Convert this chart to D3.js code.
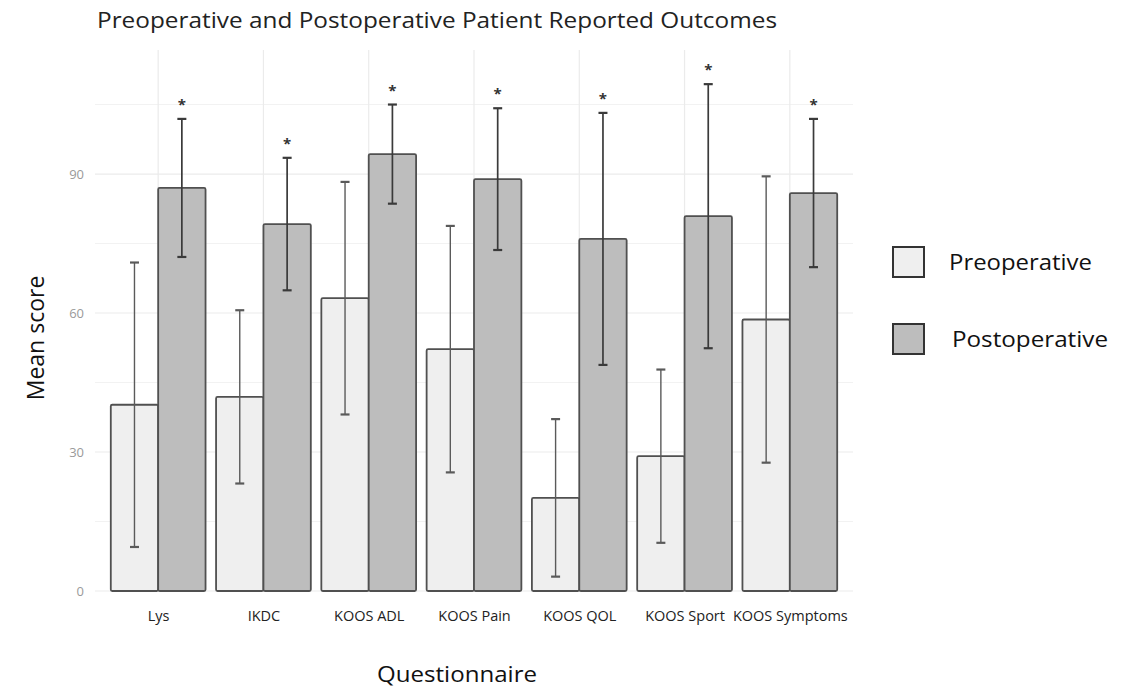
<!DOCTYPE html>
<html>
<head>
<meta charset="utf-8">
<script src="https://cdn.jsdelivr.net/npm/d3@7"></script>
<style>
  body { margin: 0; background: #fff; }
  text { font-family: "Open Sans", "Noto Sans", sans-serif; }
</style>
</head>
<body>
<div id="chart"></div>
<script>
// Chart data
var questionnaires = ["Lys", "IKDC", "KOOS ADL", "KOOS Pain", "KOOS QOL", "KOOS Sport", "KOOS Symptoms"];
var groups = ["Preoperative", "Postoperative"];
var preMean = [40.2, 41.9, 63.2, 52.2, 20.1, 29.1, 58.6];
var preSd = [30.7, 18.7, 25.1, 26.6, 17.0, 18.7, 30.9];
var postMean = [87.0, 79.2, 94.3, 88.9, 76.0, 80.9, 85.9];
var postSd = [14.9, 14.3, 10.7, 15.3, 27.2, 28.5, 16.0];
var yTicks = [0, 30, 60, 90];
var gridMinor = [15, 45, 75, 105];

var svgWidth = 1135;
var svgHeight = 689;

// panel box
var margin = { top: 50, right: 282, bottom: 98, left: 95 };
var width = svgWidth - margin.left - margin.right;
var height = svgHeight - margin.top - margin.bottom;

var fills = { Preoperative: "#efefef", Postoperative: "#bdbdbd" };

var svg = d3.select("#chart")
  .append("svg")
  .attr("width", svgWidth)
  .attr("height", svgHeight);

var chartGroup = svg.append("g")
  .attr("transform", `translate(${margin.left}, ${margin.top})`);

// scales
var yScale = d3.scaleLinear()
  .domain([0, 541 / 4.633])
  .range([height, 0]);

// discrete axis with ggplot-like 0.6 expansion at each end
var step = width / (questionnaires.length - 1 + 1.2);
var xScale = d3.scalePoint()
  .domain(questionnaires)
  .range([0.6 * step, width - 0.6 * step]);

var barW = step * 0.45;

// gridlines
chartGroup.append("g")
  .selectAll("line.minor")
  .data(gridMinor)
  .enter()
  .append("line")
  .attr("x1", 0)
  .attr("x2", width)
  .attr("y1", d => yScale(d))
  .attr("y2", d => yScale(d))
  .attr("stroke", "#f2f2f2")
  .attr("stroke-width", 1);

chartGroup.append("g")
  .selectAll("line.major")
  .data(yTicks)
  .enter()
  .append("line")
  .attr("x1", 0)
  .attr("x2", width)
  .attr("y1", d => yScale(d))
  .attr("y2", d => yScale(d))
  .attr("stroke", "#ebebeb")
  .attr("stroke-width", 1.2);

chartGroup.append("g")
  .selectAll("line.vgrid")
  .data(questionnaires)
  .enter()
  .append("line")
  .attr("x1", d => xScale(d))
  .attr("x2", d => xScale(d))
  .attr("y1", 0)
  .attr("y2", height)
  .attr("stroke", "#ebebeb")
  .attr("stroke-width", 1.2);

// build rows for the bars
var rows = [];
questionnaires.forEach(function(q, i) {
  rows.push({ q: q, group: "Preoperative", mean: preMean[i], sd: preSd[i], offset: -1 });
  rows.push({ q: q, group: "Postoperative", mean: postMean[i], sd: postSd[i], offset: 0 });
});

// bars
chartGroup.selectAll("rect.bar")
  .data(rows)
  .enter()
  .append("rect")
  .attr("x", d => xScale(d.q) + d.offset * barW)
  .attr("y", d => yScale(d.mean))
  .attr("width", barW)
  .attr("height", d => yScale(0) - yScale(d.mean))
  .attr("fill", d => fills[d.group])
  .attr("stroke", "#505050")
  .attr("stroke-width", 1.8)
  .attr("rx", 1.5);

// error bars
var capW = 4.5;
var errGroup = chartGroup.selectAll("g.err")
  .data(rows)
  .enter()
  .append("g")
  .attr("stroke", d => d.group === "Preoperative" ? "#5a5a5a" : "#3a3a3a")
  .attr("stroke-width", d => d.group === "Preoperative" ? 1.4 : 1.7);

errGroup.append("line")
  .attr("x1", d => xScale(d.q) + (d.offset + 0.5) * barW)
  .attr("x2", d => xScale(d.q) + (d.offset + 0.5) * barW)
  .attr("y1", d => yScale(d.mean - d.sd))
  .attr("y2", d => yScale(d.mean + d.sd));

errGroup.append("line")
  .attr("x1", d => xScale(d.q) + (d.offset + 0.5) * barW - capW)
  .attr("x2", d => xScale(d.q) + (d.offset + 0.5) * barW + capW)
  .attr("y1", d => yScale(d.mean + d.sd))
  .attr("y2", d => yScale(d.mean + d.sd))
  .attr("stroke-width", 2.2);

errGroup.append("line")
  .attr("x1", d => xScale(d.q) + (d.offset + 0.5) * barW - capW)
  .attr("x2", d => xScale(d.q) + (d.offset + 0.5) * barW + capW)
  .attr("y1", d => yScale(d.mean - d.sd))
  .attr("y2", d => yScale(d.mean - d.sd))
  .attr("stroke-width", 2.2);

// significance stars above postoperative bars
chartGroup.selectAll("text.star")
  .data(rows.filter(d => d.group === "Postoperative"))
  .enter()
  .append("text")
  .attr("x", d => xScale(d.q) + 0.5 * barW)
  .attr("y", d => yScale(d.mean + d.sd) - 9)
  .attr("text-anchor", "middle")
  .attr("font-size", 15)
  .attr("font-weight", "bold")
  .attr("fill", "#333")
  .text("*");

// axes
var leftAxis = d3.axisLeft(yScale).tickValues(yTicks).tickSize(0).tickPadding(11);
var bottomAxis = d3.axisBottom(xScale).tickSize(0).tickPadding(20);

var yAxisG = chartGroup.append("g").call(leftAxis);
yAxisG.select(".domain").remove();
yAxisG.selectAll("text")
  .attr("font-size", 13)
  .attr("fill", "#9a9a9a")
  .attr("font-family", "'Open Sans', sans-serif");

var xAxisG = chartGroup.append("g")
  .attr("transform", `translate(0, ${height})`)
  .call(bottomAxis);
xAxisG.select(".domain").remove();
xAxisG.selectAll("text")
  .attr("font-size", 14.5)
  .attr("fill", "#222")
  .attr("font-family", "'Open Sans', sans-serif");

// title
svg.append("text")
  .attr("x", 97)
  .attr("y", 28)
  .attr("font-size", 22)
  .attr("fill", "#222")
  .attr("textLength", 680)
  .attr("lengthAdjust", "spacingAndGlyphs")
  .text("Preoperative and Postoperative Patient Reported Outcomes");

// y label
svg.append("text")
  .attr("transform", "rotate(-90)")
  .attr("x", -338)
  .attr("y", 44)
  .attr("text-anchor", "middle")
  .attr("font-size", 23)
  .attr("fill", "#111")
  .text("Mean score");

// x label
svg.append("text")
  .attr("x", 457)
  .attr("y", 682)
  .attr("text-anchor", "middle")
  .attr("font-size", 22)
  .attr("fill", "#111")
  .attr("textLength", 160)
  .attr("lengthAdjust", "spacingAndGlyphs")
  .text("Questionnaire");

// legend
var legend = svg.append("g")
  .attr("transform", "translate(893, 247)");

var legendItem = legend.selectAll("g")
  .data(groups)
  .enter()
  .append("g")
  .attr("transform", (d, i) => `translate(0, ${i * 77})`);

legendItem.append("rect")
  .attr("width", 31)
  .attr("height", 30)
  .attr("fill", d => fills[d])
  .attr("stroke", "#333")
  .attr("stroke-width", 2);

legendItem.append("text")
  .attr("x", (d, i) => 56 + i * 3)
  .attr("y", 15)
  .attr("dy", "0.35em")
  .attr("font-size", 22)
  .attr("fill", "#111")
  .attr("textLength", (d, i) => i === 0 ? 143 : 156)
  .attr("lengthAdjust", "spacingAndGlyphs")
  .text(d => d);
</script>
</body>
</html>
